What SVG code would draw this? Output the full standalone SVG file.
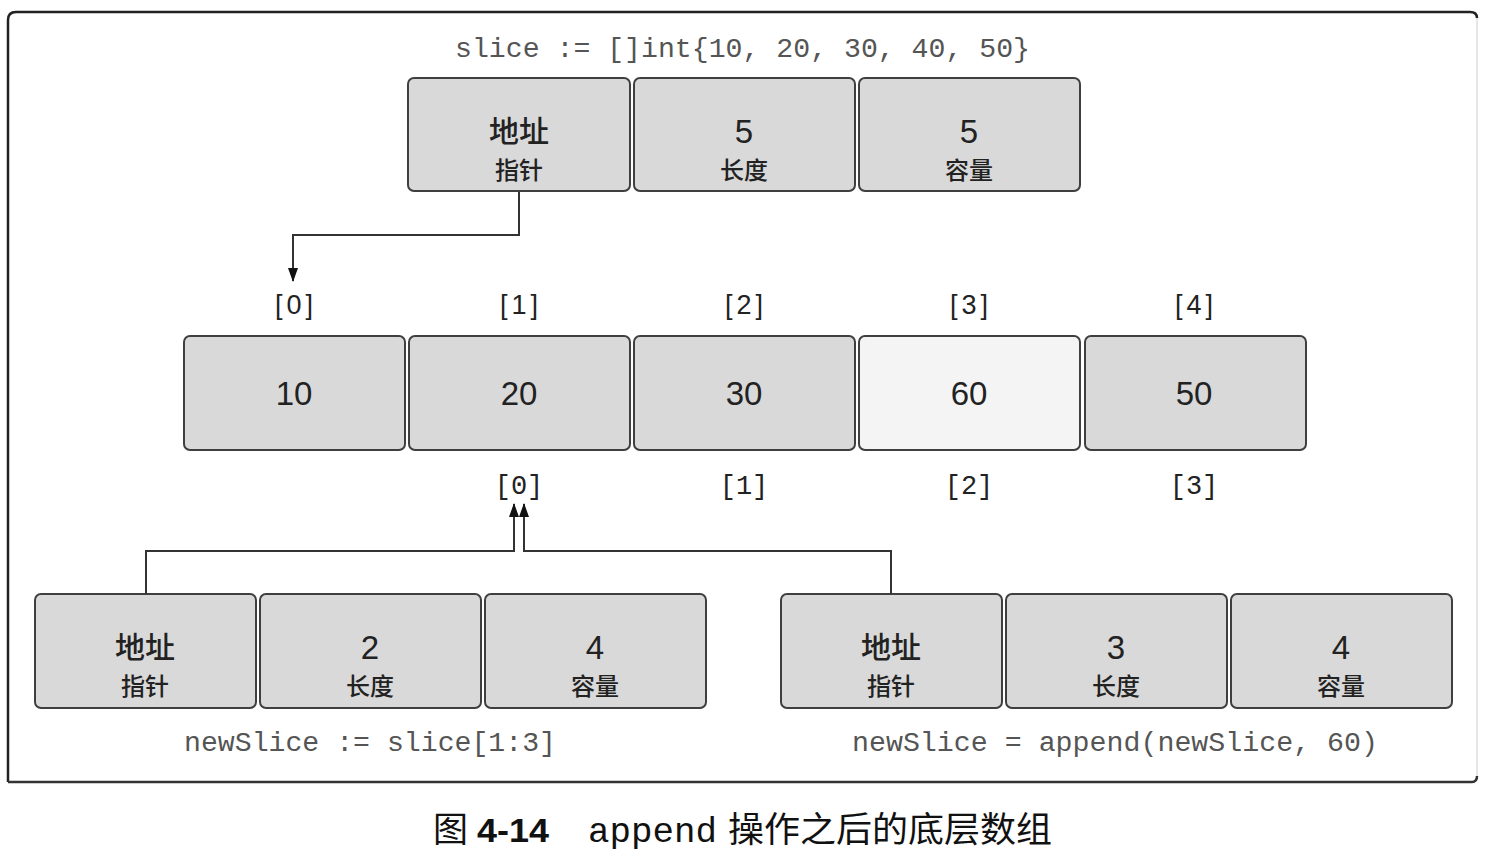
<svg xmlns="http://www.w3.org/2000/svg" width="1502" height="856" viewBox="0 0 1502 856">
<style>
.box{fill:#d9d9d9;stroke:#3f3f3f;stroke-width:2}
.light{fill:#f4f4f4}
.code{font-family:"Liberation Mono","DejaVu Sans Mono",monospace;font-size:27px;fill:#555}
.num{font-family:"Liberation Sans",Arial,sans-serif;font-size:33px;fill:#222;text-anchor:middle}
.cjk1{font-family:"Noto Sans CJK SC",sans-serif;font-size:30px;fill:#222;text-anchor:middle;font-weight:500}
.cjk2{font-family:"Noto Sans CJK SC",sans-serif;font-size:24px;fill:#222;text-anchor:middle;font-weight:500}
.idx{font-family:"Liberation Sans",Arial,sans-serif;font-size:27px;fill:#222;text-anchor:middle}
.idx2{font-family:"Liberation Mono",monospace;font-size:27px;fill:#222;text-anchor:middle}
.conn{fill:none;stroke:#333;stroke-width:2}
.capc{font-family:"Noto Sans CJK SC",sans-serif;font-size:35px;fill:#111}
</style>
<defs>
<marker id="arrn" viewBox="0 0 14 10" refX="13" refY="5" markerWidth="14" markerHeight="10" markerUnits="userSpaceOnUse" orient="auto"><path d="M0,0 L14,5 L0,10 z" fill="#111"/></marker>
</defs>
<rect width="1502" height="856" fill="#fff"/>
<g id="frame">
<path d="M8,782 L8,20 Q8,12 16,12 L1470,12 Q1477,12 1477,18" fill="none" stroke="#222" stroke-width="2.5"/>
<path d="M8,782 L1472,782 Q1477,782 1477,776" fill="none" stroke="#333" stroke-width="2.5"/>
<line x1="1477" y1="18" x2="1477" y2="776" stroke="#e6e6e6" stroke-width="2"/>
</g>
<text class="code" x="455" y="57" textLength="575" lengthAdjust="spacingAndGlyphs">slice := []int{10, 20, 30, 40, 50}</text>
<g id="slice">
<g id="slice-ptr"><rect class="box" x="408" y="78" width="222" height="113" rx="6"/><text class="cjk1" x="519" y="142">地址</text><text class="cjk2" x="519" y="179">指针</text></g>
<g id="slice-len"><rect class="box" x="634" y="78" width="221" height="113" rx="6"/><text class="num" x="744" y="143">5</text><text class="cjk2" x="744" y="179">长度</text></g>
<g id="slice-cap"><rect class="box" x="859" y="78" width="221" height="113" rx="6"/><text class="num" x="969" y="143">5</text><text class="cjk2" x="969" y="179">容量</text></g>
</g>
<g id="idx-top">
<text class="idx" x="296" y="314" letter-spacing="4">[0]</text>
<text class="idx" x="521" y="314" letter-spacing="4">[1]</text>
<text class="idx" x="746" y="314" letter-spacing="4">[2]</text>
<text class="idx" x="971" y="314" letter-spacing="4">[3]</text>
<text class="idx" x="1196" y="314" letter-spacing="4">[4]</text>
</g>
<g id="array">
<g id="a0"><rect class="box" x="184" y="336" width="221" height="114" rx="6"/><text class="num" x="294" y="405">10</text></g>
<g id="a1"><rect class="box" x="409" y="336" width="221" height="114" rx="6"/><text class="num" x="519" y="405">20</text></g>
<g id="a2"><rect class="box" x="634" y="336" width="221" height="114" rx="6"/><text class="num" x="744" y="405">30</text></g>
<g id="a3"><rect class="box light" x="859" y="336" width="221" height="114" rx="6"/><text class="num" x="969" y="405">60</text></g>
<g id="a4"><rect class="box" x="1085" y="336" width="221" height="114" rx="6"/><text class="num" x="1194" y="405">50</text></g>
</g>
<g id="idx-bottom">
<text class="idx2" x="519" y="494">[0]</text>
<text class="idx2" x="744" y="494">[1]</text>
<text class="idx2" x="969" y="494">[2]</text>
<text class="idx2" x="1194" y="494">[3]</text>
</g>
<g id="newslice1">
<g id="n1-ptr"><rect class="box" x="35" y="594" width="221" height="114" rx="6"/><text class="cjk1" x="145" y="658">地址</text><text class="cjk2" x="145" y="695">指针</text></g>
<g id="n1-len"><rect class="box" x="260" y="594" width="221" height="114" rx="6"/><text class="num" x="370" y="659">2</text><text class="cjk2" x="370" y="695">长度</text></g>
<g id="n1-cap"><rect class="box" x="485" y="594" width="221" height="114" rx="6"/><text class="num" x="595" y="659">4</text><text class="cjk2" x="595" y="695">容量</text></g>
</g>
<g id="newslice2">
<g id="n2-ptr"><rect class="box" x="781" y="594" width="221" height="114" rx="6"/><text class="cjk1" x="891" y="658">地址</text><text class="cjk2" x="891" y="695">指针</text></g>
<g id="n2-len"><rect class="box" x="1006" y="594" width="221" height="114" rx="6"/><text class="num" x="1116" y="659">3</text><text class="cjk2" x="1116" y="695">长度</text></g>
<g id="n2-cap"><rect class="box" x="1231" y="594" width="221" height="114" rx="6"/><text class="num" x="1341" y="659">4</text><text class="cjk2" x="1341" y="695">容量</text></g>
</g>
<text class="code" x="184" y="751" textLength="372" lengthAdjust="spacingAndGlyphs">newSlice := slice[1:3]</text>
<text class="code" x="852" y="751" textLength="526" lengthAdjust="spacingAndGlyphs">newSlice = append(newSlice, 60)</text>
<g id="connectors">
<path class="conn" d="M519,192 L519,235 L293,235 L293,281" marker-end="url(#arrn)"/>
<path class="conn" d="M146,594 L146,551 L514,551 L514,504" marker-end="url(#arrn)"/>
<path class="conn" d="M891,594 L891,551 L524,551 L524,504" marker-end="url(#arrn)"/>
</g>
<g id="caption">
<text class="capc" x="433" y="842">图</text>
<text x="477" y="842" font-family="Liberation Sans,Arial,sans-serif" font-weight="bold" font-size="33" fill="#111" textLength="72" lengthAdjust="spacingAndGlyphs">4-14</text>
<text x="588" y="842" font-family="Liberation Mono,monospace" font-size="35" fill="#111" textLength="129" lengthAdjust="spacingAndGlyphs">append</text>
<text class="capc" x="728" y="842" textLength="324" lengthAdjust="spacingAndGlyphs">操作之后的底层数组</text>
</g>
</svg>
